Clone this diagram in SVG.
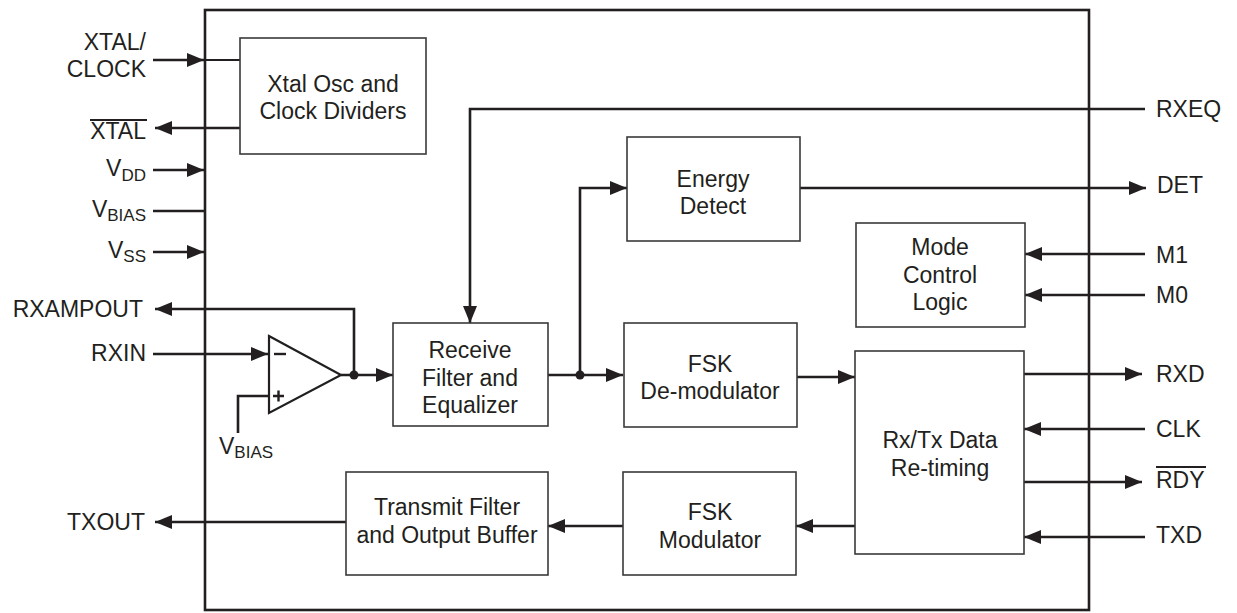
<svg xmlns="http://www.w3.org/2000/svg" width="1237" height="613" viewBox="0 0 1237 613">
<style>
text{font-family:"Liberation Sans",Arial,sans-serif;font-size:23px;fill:#231f20}
.sub{font-size:17px}
.c{text-anchor:middle}
.e{text-anchor:end}
.box{fill:#fff;stroke:#3a3a3a;stroke-width:1.6}
.w{fill:none;stroke:#231f20;stroke-width:2.6}
.t{fill:none;stroke:#231f20;stroke-width:1.8}
.ol{stroke:#231f20;stroke-width:2}
</style>
<defs>
<marker id="ah" viewBox="0 0 17 14" refX="17" refY="7" markerWidth="17" markerHeight="14" markerUnits="userSpaceOnUse" orient="auto">
<path d="M0,0 L17,7 L0,14 Z" fill="#231f20"/>
</marker>
</defs>
<rect x="0" y="0" width="1237" height="613" fill="#fff"/>
<rect id="chip" x="205" y="10" width="884" height="600" fill="none" stroke="#231f20" stroke-width="2.6"/>

<g id="connectors">
<path class="w" d="M153,60 H204" marker-end="url(#ah)"/>
<path class="t" d="M204,60 H240"/>
<path class="w" d="M240,128 H155" marker-end="url(#ah)"/>
<path class="w" d="M153,170 H204" marker-end="url(#ah)"/>
<path class="w" d="M153,211 H205"/>
<path class="w" d="M153,252 H204" marker-end="url(#ah)"/>
<path class="w" d="M354,375 V309 H155" marker-end="url(#ah)"/>
<path class="w" d="M153,354 H268" marker-end="url(#ah)"/>
<path class="w" d="M269,396 H238 V433"/>
<path class="w" d="M341,375 H393" marker-end="url(#ah)"/>
<circle cx="354" cy="375" r="4.5" fill="#231f20"/>
<path class="w" d="M1145,109 H470 V323" marker-end="url(#ah)"/>
<path class="w" d="M548,375 H623" marker-end="url(#ah)"/>
<path class="w" d="M580,375 V188 H627" marker-end="url(#ah)"/>
<circle cx="580" cy="375" r="4.5" fill="#231f20"/>
<path class="w" d="M800,188 H1146" marker-end="url(#ah)"/>
<path class="w" d="M1145,254 H1025" marker-end="url(#ah)"/>
<path class="w" d="M1145,295 H1025" marker-end="url(#ah)"/>
<path class="w" d="M797,377 H855" marker-end="url(#ah)"/>
<path class="w" d="M1024,374 H1142" marker-end="url(#ah)"/>
<path class="w" d="M1145,429 H1024" marker-end="url(#ah)"/>
<path class="w" d="M1024,482 H1142" marker-end="url(#ah)"/>
<path class="w" d="M1145,537 H1024" marker-end="url(#ah)"/>
<path class="w" d="M855,526 H796" marker-end="url(#ah)"/>
<path class="w" d="M623,526 H548" marker-end="url(#ah)"/>
<path class="w" d="M346,522 H155" marker-end="url(#ah)"/>
</g>

<g id="xtal-osc">
<rect class="box" x="240" y="38" width="186" height="116"/>
<text class="c" x="333" y="92">Xtal Osc and</text>
<text class="c" x="333" y="119">Clock Dividers</text>
</g>

<g id="opamp">
<path d="M269,336 L341,375 L269,413 Z" fill="#fff" stroke="#231f20" stroke-width="2.2"/>
<path d="M274,354 H286" stroke="#231f20" stroke-width="2.4"/>
<path d="M273,396 H284 M278.5,390.5 V401.5" stroke="#231f20" stroke-width="2.4"/>
</g>

<g id="receive-filter">
<rect class="box" x="393" y="323" width="155" height="103"/>
<text class="c" x="470" y="358">Receive</text>
<text class="c" x="470" y="386">Filter and</text>
<text class="c" x="470" y="413">Equalizer</text>
</g>

<g id="energy-detect">
<rect class="box" x="627" y="137" width="173" height="104"/>
<text class="c" x="713" y="187">Energy</text>
<text class="c" x="713" y="214">Detect</text>
</g>

<g id="fsk-demod">
<rect class="box" x="624" y="323" width="173" height="104"/>
<text class="c" x="710" y="372">FSK</text>
<text class="c" x="710" y="399">De-modulator</text>
</g>

<g id="mode-control">
<rect class="box" x="856" y="223" width="169" height="104"/>
<text class="c" x="940" y="255">Mode</text>
<text class="c" x="940" y="283">Control</text>
<text class="c" x="940" y="310">Logic</text>
</g>

<g id="rxtx-retiming">
<rect class="box" x="855" y="351" width="169" height="203"/>
<text class="c" x="940" y="448">Rx/Tx Data</text>
<text class="c" x="940" y="476">Re-timing</text>
</g>

<g id="fsk-mod">
<rect class="box" x="623" y="472" width="173" height="103"/>
<text class="c" x="710" y="520">FSK</text>
<text class="c" x="710" y="548">Modulator</text>
</g>

<g id="transmit-filter">
<rect class="box" x="346" y="472" width="202" height="103"/>
<text class="c" x="447" y="515">Transmit Filter</text>
<text class="c" x="447" y="543">and Output Buffer</text>
</g>

<g id="pin-labels-left">
<text class="e" x="146" y="50">XTAL/</text>
<text class="e" x="146" y="77">CLOCK</text>
<text class="e" x="146" y="139">XTAL</text>
<line class="ol" x1="90" y1="120" x2="147" y2="120"/>
<text class="e" x="146" y="176">V<tspan class="sub" dy="5">DD</tspan></text>
<text class="e" x="146" y="217">V<tspan class="sub" dy="4">BIAS</tspan></text>
<text class="e" x="146" y="258">V<tspan class="sub" dy="4">SS</tspan></text>
<text class="e" x="143" y="317">RXAMPOUT</text>
<text class="e" x="146" y="361">RXIN</text>
<text class="e" x="145" y="530">TXOUT</text>
<text x="219" y="454">V<tspan class="sub" dy="4">BIAS</tspan></text>
</g>

<g id="pin-labels-right">
<text x="1156" y="117">RXEQ</text>
<text x="1157" y="193">DET</text>
<text x="1156" y="263">M1</text>
<text x="1156" y="303">M0</text>
<text x="1156" y="382">RXD</text>
<text x="1156" y="437">CLK</text>
<text x="1156" y="488">RDY</text>
<line class="ol" x1="1156" y1="467" x2="1206" y2="467"/>
<text x="1156" y="543">TXD</text>
</g>
</svg>
